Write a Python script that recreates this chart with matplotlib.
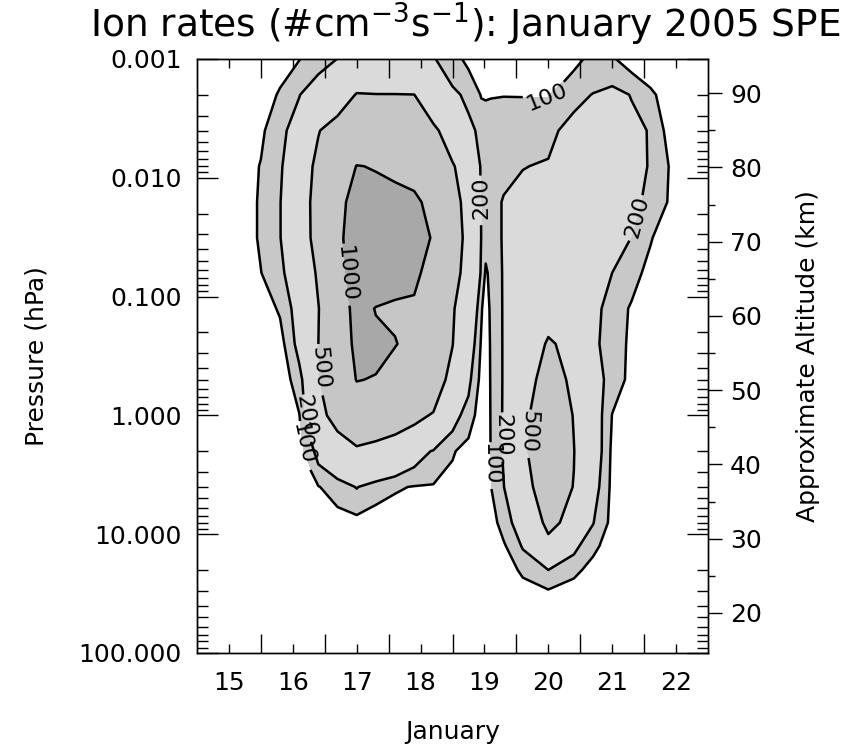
import numpy as np
import matplotlib
matplotlib.use("Agg")
import matplotlib.pyplot as plt
from matplotlib.ticker import LogLocator, NullFormatter

plt.rcParams['font.family'] = ['DejaVu Sans']

# ---------------- data ----------------
# grid columns: day of January (fractional)
days = [15.0, 15.7, 16.0, 16.3, 16.6, 16.9, 17.2, 17.5, 17.8, 18.1, 18.4, 18.7,
        19.0, 19.25, 19.45, 19.52, 19.6, 19.8, 20.1, 20.5, 20.9, 21.2, 21.5,
        21.8, 22.1, 22.4, 23.0]
# grid rows: pressure (hPa), top of atmosphere first
pressure = [0.001, 0.002, 0.004, 0.008, 0.016, 0.032, 0.063, 0.126, 0.25,
            0.5, 1.0, 2.0, 4.0, 8.0, 12.6, 20.0, 32.0, 100.0]

# ion rates (#cm-3 s-1), one profile (pressure rows) per day column
rates_by_day = [
    [10, 10, 10, 10, 10, 10, 10, 10, 10, 10, 10, 10, 10, 10, 10, 10, 10, 10],
    [20, 30, 45, 55, 60, 60, 55, 45, 35, 25, 20, 15, 12, 10, 10, 10, 10, 10],
    [30, 55, 85, 105, 110, 110, 98, 60, 45, 35, 28, 20, 15, 10, 10, 10, 10, 10],
    [70, 110, 157, 180, 195, 195, 168, 110, 60, 40, 38, 32, 25, 18, 14, 12, 10, 10],
    [97, 195, 281, 343, 371, 368, 312, 262, 243, 150, 95, 55, 45, 30, 22, 16, 12, 10],
    [150, 295, 490, 568, 596, 591, 534, 490, 500, 470, 420, 243, 95, 50, 35, 25, 15, 10],
    [202, 398, 600, 753, 920, 935, 900, 820, 800, 780, 600, 325, 150, 45, 35, 25, 18, 10],
    [350, 510, 759, 1010, 1100, 1150, 1130, 1100, 1070, 1010, 740, 446, 205, 60, 45, 32, 22, 12],
    [330, 505, 742, 985, 1120, 1180, 1150, 990, 1060, 985, 685, 400, 150, 30, 25, 20, 15, 12],
    [320, 505, 706, 944, 1100, 1150, 1090, 960, 1015, 800, 620, 355, 110, 40, 32, 25, 18, 12],
    [300, 502, 685, 920, 1050, 1080, 1070, 940, 900, 780, 560, 260, 95, 40, 32, 24, 18, 12],
    [210, 380, 540, 700, 920, 985, 870, 790, 730, 640, 480, 190, 90, 45, 35, 25, 18, 10],
    [130, 230, 398, 520, 560, 580, 560, 515, 505, 420, 250, 110, 60, 35, 28, 20, 15, 10],
    [80, 170, 240, 380, 445, 455, 440, 400, 300, 230, 150, 60, 40, 25, 20, 15, 12, 10],
    [40, 95, 165, 185, 195, 198, 185, 110, 90, 70, 50, 35, 25, 18, 14, 12, 10, 10],
    [40, 92, 160, 170, 160, 130, 85, 60, 50, 45, 40, 35, 28, 20, 16, 13, 10, 10],
    [40, 95, 160, 180, 175, 150, 125, 115, 110, 108, 106, 104, 97, 60, 40, 25, 15, 10],
    [30, 98, 150, 185, 205, 210, 210, 210, 210, 210, 212, 212, 195, 139, 85, 45, 20, 10],
    [25, 97, 160, 195, 260, 300, 320, 340, 360, 390, 450, 460, 420, 280, 210, 120, 45, 10],
    [25, 97, 160, 215, 300, 350, 390, 440, 520, 600, 650, 660, 620, 560, 420, 200, 70, 12],
    [80, 160, 260, 330, 370, 390, 410, 430, 450, 457, 492, 505, 494, 427, 230, 130, 30, 10],
    [120, 205, 270, 310, 320, 320, 300, 240, 230, 280, 290, 300, 260, 205, 125, 60, 20, 10],
    [110, 240, 250, 260, 260, 240, 200, 150, 140, 140, 97, 80, 75, 70, 50, 30, 15, 10],
    [60, 195, 240, 250, 230, 198, 130, 90, 85, 80, 70, 50, 40, 30, 20, 15, 10, 10],
    [40, 120, 190, 190, 170, 105, 75, 55, 45, 40, 35, 30, 25, 20, 15, 12, 10, 10],
    [25, 50, 60, 95, 90, 60, 40, 30, 25, 20, 18, 15, 12, 10, 10, 10, 10, 10],
    [10, 10, 10, 10, 10, 10, 10, 10, 10, 10, 10, 10, 10, 10, 10, 10, 10, 10],
]

contour_levels = [100, 200, 500, 1000]
fill_top = 100000
fill_colors = ['#c8c8c8', '#dadada', '#c6c6c6', '#a8a8a8']

day_ticks = [15.5, 16.5, 17.5, 18.5, 19.5, 20.5, 21.5, 22.5]
day_labels = ['15', '16', '17', '18', '19', '20', '21', '22']
day_bounds = [16, 17, 18, 19, 20, 21, 22]

p_ticks = [0.001, 0.01, 0.1, 1.0, 10.0, 100.0]
p_labels = ['0.001', '0.010', '0.100', '1.000', '10.000', '100.000']

alt_major = [20, 30, 40, 50, 60, 70, 80, 90]
alt_minor = [25, 35, 45, 55, 65, 75, 85]

# label spots (day, pressure) for each contour level
label_spots = {
    100: [(20.48, 0.0021), (16.66, 1.74), (19.62, 2.57)],
    200: [(19.38, 0.0148), (21.9, 0.0214), (16.72, 1.0), (19.77, 1.48)],
    500: [(16.97, 0.40), (20.23, 1.38)],
    1000: [(17.43, 0.063)],
}
# labels (by index in label_spots) that read the other way round
flipped_labels = {200: [0], 500: [1]}

title = r'Ion rates (#cm$^{-3}$s$^{-1}$): January 2005 SPE'


def alt_to_p(z):
    # approximate altitude (km) -> pressure (hPa), scale height ~7 km
    return 10 ** ((46.6 - z) / 16.0)


# ---------------- figure ----------------
fig = plt.figure(figsize=(8.44, 7.46), dpi=100)
fig.patch.set_facecolor('white')
ax = fig.add_axes([197 / 844, 93 / 746, 511 / 844, 594 / 746])
ax.set_yscale('log')

X, Y = np.meshgrid(days, pressure)
Z = np.array(rates_by_day, dtype=float).T

ax.contourf(X, Y, Z, levels=contour_levels + [fill_top], colors=fill_colors)
ax.set_xlim(15, 23)
ax.set_ylim(100, 0.001)

for lev in contour_levels:
    cs = ax.contour(X, Y, Z, levels=[lev], colors='black', linewidths=1.8)
    ax.clabel(cs, manual=label_spots[lev], inline=True, fmt='%d',
              fontsize=16, inline_spacing=3)
    for i in flipped_labels.get(lev, []):
        if i < len(cs.labelTexts):
            t = cs.labelTexts[i]
            t.set_rotation((t.get_rotation() + 180) % 360)

ax.set_xlim(15, 23)
ax.set_ylim(100, 0.001)

# x axis
ax.set_xticks(day_ticks)
ax.set_xticklabels(day_labels)
ax.set_xticks(day_bounds, minor=True)
ax.tick_params(axis='x', which='major', direction='in', length=6.5, width=1,
               top=True, bottom=True, labelsize=18, pad=13)
ax.tick_params(axis='x', which='minor', direction='in', length=14, width=1,
               top=True, bottom=True)
ax.set_xlabel('January', fontsize=18)
ax.xaxis.set_label_coords(0.5, -0.112)

# right axis: altitude
ax2 = ax.twinx()
ax2.set_yscale('log')
ax2.set_ylim(100, 0.001)
ax2.set_yticks([alt_to_p(z) for z in alt_major])
ax2.set_yticklabels([str(z) for z in alt_major])
ax2.set_yticks([alt_to_p(z) for z in alt_minor], minor=True)
ax2.yaxis.set_minor_formatter(NullFormatter())
ax2.tick_params(axis='y', which='major', direction='out', length=10, width=1,
                labelsize=18, pad=6)
ax2.tick_params(axis='y', which='minor', direction='out', length=5, width=1)
ax2.set_ylabel('Approximate Altitude (km)', fontsize=18)
ax2.yaxis.set_label_coords(1.172, 0.5)

# left axis: pressure
ax.set_yticks(p_ticks)
ax.set_yticklabels(p_labels)
ax.yaxis.set_minor_locator(LogLocator(base=10, subs=np.arange(2, 10), numticks=20))
ax.yaxis.set_minor_formatter(NullFormatter())
ax.tick_params(axis='y', which='both', direction='in', left=True, right=True,
               labelsize=18, pad=11, width=1)
ax.tick_params(axis='y', which='major', length=15)
ax.tick_params(axis='y', which='minor', length=8)
ax.set_ylabel('Pressure (hPa)', fontsize=18)
ax.yaxis.set_label_coords(-0.29, 0.5)

for a in (ax, ax2):
    for s in a.spines.values():
        s.set_linewidth(1.0)

fig.text(90 / 844, 1 - 38 / 746, title, fontsize=27, ha='left', va='baseline')

fig.savefig('out.png', dpi=100, facecolor='white')
